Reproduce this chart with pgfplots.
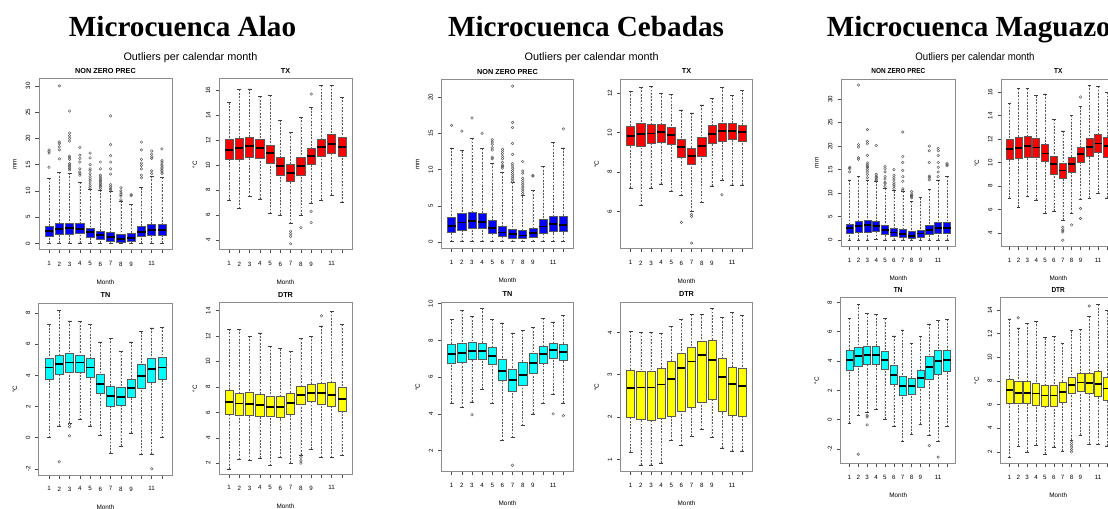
\documentclass[border=0pt]{standalone}
\usepackage{pgfplots}
\pgfplotsset{compat=1.18}
\usepackage{pgfplotstable}
\usepgfplotslibrary{statistics}
\usepackage{fontspec}
\setmainfont{Liberation Sans}
\newfontfamily\headfont{Liberation Serif}

\definecolor{rblue}{RGB}{0,0,255}
\definecolor{rred}{RGB}{255,0,0}
\definecolor{rcyan}{RGB}{0,255,255}
\definecolor{ryellow}{RGB}{255,255,0}

% ---------- monthly box statistics: m lw q1 med q3 uw ----------
\pgfplotstableread{
m lw q1 med q3 uw
1 0.05 1.45 2.3 3.35 12.4
2 0.05 1.8 2.75 3.8 13.5
3 0.05 1.8 2.95 3.9 13.4
4 0.1 1.9 2.8 3.8 11.6
5 0.05 1.2 2.1 2.9 10.3
6 0.05 0.8 1.6 2.35 10.2
7 0.05 0.45 1.2 2.1 9.9
8 0.05 0.25 0.85 1.8 8.1
9 0.05 0.45 1.1 2.0 7.4
10 0.05 1.4 2.15 3.2 10.6
11 0.05 1.5 2.55 3.7 12.8
12 0.05 1.5 2.55 3.7 12.6
}\alaoP
\pgfplotstableread{
m lw q1 med q3 uw
1 7.2 10.43 11.23 12.04 15.0
2 6.54 10.48 11.37 12.17 16.05
3 7.5 10.6 11.5 12.25 16.1
4 7.3 10.56 11.37 12.1 15.5
5 6.1 10.16 10.96 11.58 15.6
6 6.0 9.17 9.9 10.6 13.6
7 5.3 8.69 9.36 10.03 12.6
8 6.0 9.2 9.95 10.6 13.85
9 6.95 10.1 10.75 11.37 14.6
10 7.2 10.7 11.42 12.1 16.4
11 7.6 10.96 11.7 12.44 16.4
12 7.0 10.7 11.45 12.2 15.45
}\alaoTX
\pgfplotstableread{
m lw q1 med q3 uw
1 0.0 3.78 4.51 5.1 7.25
2 0.75 4.08 4.75 5.32 8.15
3 0.95 4.19 4.83 5.39 7.5
4 1.15 4.21 4.83 5.32 7.45
5 0.75 3.89 4.51 5.07 7.3
6 0.12 2.82 3.44 4.1 6.15
7 -1.0 2.0 2.65 3.33 6.4
8 -0.55 2.05 2.6 3.22 5.55
9 0.3 2.58 3.18 3.78 6.15
10 -1.1 3.18 3.97 4.68 6.8
11 -1.05 3.55 4.4 5.1 7.05
12 0.0 3.72 4.5 5.17 7.1
}\alaoTN
\pgfplotstableread{
m lw q1 med q3 uw
1 1.55 5.88 6.79 7.71 12.55
2 2.3 5.8 6.7 7.5 12.55
3 2.2 5.8 6.66 7.55 12.0
4 2.4 5.72 6.58 7.42 12.25
5 1.8 5.67 6.45 7.24 11.2
6 2.45 5.59 6.43 7.24 11.0
7 2.0 5.88 6.72 7.5 10.8
8 2.65 6.66 7.34 8.03 11.8
9 3.1 6.85 7.55 8.24 12.0
10 2.45 6.66 7.5 8.29 12.8
11 2.45 6.45 7.37 8.34 13.95
12 2.6 6.11 7.03 7.95 12.9
}\alaoDTR

\pgfplotstableread{
m lw q1 med q3 uw
1 0.05 1.37 2.24 3.39 13.0
2 0.05 1.69 2.7 3.98 12.6
3 0.05 1.92 2.93 4.07 14.3
4 0.05 1.92 2.79 3.94 12.9
5 0.05 1.24 2.0 2.97 10.9
6 0.05 0.78 1.33 2.15 9.6
7 0.05 0.55 1.1 1.83 8.2
8 0.05 0.46 0.92 1.69 6.4
9 0.05 0.69 1.28 1.92 7.1
10 0.05 1.24 2.15 3.2 10.4
11 0.05 1.46 2.52 3.62 13.8
12 0.05 1.46 2.38 3.52 13.0
}\cebP
\pgfplotstableread{
m lw q1 med q3 uw
1 7.2 9.36 9.83 10.32 12.1
2 6.3 9.28 9.92 10.49 12.3
3 7.2 9.45 9.95 10.42 12.35
4 7.4 9.53 10.02 10.4 12.0
5 7.0 9.41 9.87 10.29 11.95
6 6.8 8.77 9.28 9.68 11.15
7 6.0 8.39 8.82 9.21 11.0
8 6.45 8.81 9.31 9.78 11.4
9 7.3 9.45 9.92 10.35 11.75
10 7.6 9.58 10.07 10.45 12.3
11 7.35 9.68 10.08 10.47 11.9
12 7.35 9.56 10.02 10.37 12.15
}\cebTX
\pgfplotstableread{
m lw q1 med q3 uw
1 4.58 6.76 7.27 7.76 9.16
2 4.35 6.8 7.31 7.85 9.64
3 4.65 6.95 7.4 7.9 9.3
4 5.35 6.95 7.4 7.82 9.75
5 4.55 6.67 7.16 7.64 9.15
6 2.55 5.8 6.35 6.95 8.95
7 2.7 5.22 5.85 6.44 8.4
8 3.35 5.56 6.13 6.8 8.55
9 4.0 6.22 6.76 7.31 8.7
10 4.55 6.73 7.27 7.67 9.2
11 5.05 7.02 7.49 7.85 9.0
12 4.6 6.9 7.35 7.76 9.35
}\cebTN
\pgfplotstableread{
m lw q1 med q3 uw
1 1.17 1.99 2.68 3.11 4.02
2 0.87 1.94 2.7 3.09 4.0
3 0.87 1.93 2.7 3.07 4.0
4 0.92 1.97 2.77 3.15 3.98
5 1.45 2.01 2.9 3.31 4.15
6 1.33 2.14 3.15 3.5 4.3
7 1.55 2.24 3.31 3.64 4.42
8 1.7 2.36 3.47 3.8 4.43
9 1.52 2.42 3.35 3.82 4.57
10 1.27 2.13 2.94 3.38 4.35
11 1.2 2.05 2.79 3.17 4.47
12 1.2 2.01 2.74 3.15 4.4
}\cebDTR

\pgfplotstableread{
m lw q1 med q3 uw
1 0.05 1.4 2.5 3.4 12.8
2 0.05 1.6 3.0 4.1 13.5
3 0.05 1.7 3.2 4.25 12.8
4 0.1 1.8 3.0 3.95 12.6
5 0.05 1.2 2.2 3.1 11.0
6 0.05 0.75 1.6 2.5 10.5
7 0.05 0.5 1.3 2.3 10.3
8 0.05 0.35 0.95 1.8 8.2
9 0.05 0.65 1.4 2.1 9.0
10 0.05 1.3 2.2 3.2 10.8
11 0.05 1.5 2.6 3.8 12.8
12 0.05 1.5 2.6 3.8 13.5
}\magP
\pgfplotstableread{
m lw q1 med q3 uw
1 6.97 10.29 11.15 12.02 15.05
2 6.22 10.37 11.24 12.16 16.3
3 7.12 10.49 11.44 12.22 16.3
4 6.83 10.43 11.3 12.08 15.7
5 5.7 10.09 10.78 11.53 15.85
6 5.87 9.05 9.86 10.58 13.7
7 5.1 8.64 9.34 9.91 12.7
8 5.67 9.22 9.91 10.49 14.04
9 6.88 10.0 10.72 11.3 14.76
10 6.97 10.58 11.35 12.1 16.6
11 7.4 10.86 11.64 12.45 16.5
12 7.0 10.49 11.44 12.16 16.0
}\magTX
\pgfplotstableread{
m lw q1 med q3 uw
1 -0.23 3.4 4.08 4.71 6.91
2 0.27 3.62 4.35 4.92 7.89
3 0.5 3.8 4.42 5.03 7.25
4 0.68 3.8 4.42 4.98 7.18
5 0.04 3.44 4.08 4.67 6.89
6 -0.46 2.44 3.06 3.74 5.71
7 -1.48 1.65 2.31 2.94 6.12
8 -0.98 1.74 2.31 2.81 5.21
9 -0.3 2.2 2.83 3.4 5.7
10 -1.07 2.78 3.58 4.3 6.53
11 -1.5 3.1 4.01 4.71 6.75
12 -0.46 3.33 4.08 4.76 6.84
}\magTN
\pgfplotstableread{
m lw q1 med q3 uw
1 1.52 6.15 7.22 8.13 13.26
2 2.48 6.09 7.0 7.93 12.5
3 2.0 6.09 7.0 7.99 12.87
4 2.56 5.95 6.94 7.84 13.07
5 1.8 5.87 6.77 7.65 11.66
6 2.42 5.87 6.77 7.62 11.8
7 2.08 6.2 7.08 7.87 11.18
8 3.0 6.94 7.65 8.35 12.25
9 3.41 7.14 7.87 8.63 12.36
10 2.65 6.94 7.84 8.69 13.49
11 2.6 6.66 7.73 8.78 14.48
12 2.5 6.38 7.36 8.35 14.0
}\magDTR

% ---------- styles ----------
\pgfplotsset{
  rbox/.style={
    draw=black!65, line width=0.6bp, solid,
    boxplot/draw direction=y,
    boxplot/box extend=0.8,
    boxplot/whisker extend=0.4,
    boxplot/every median/.style={draw=black, line width=1.8bp},
    boxplot/draw/lower whisker/.code={%
      \draw[black!65, line width=0.5bp, dash pattern=on 1.8bp off 1.5bp]
        (boxplot cs:\pgfplotsboxplotvalue{lower whisker}) --
        (boxplot cs:\pgfplotsboxplotvalue{lower quartile});
      \draw[black!75, line width=0.6bp, solid]
        (boxplot whisker cs:\pgfplotsboxplotvalue{lower whisker},0) --
        (boxplot whisker cs:\pgfplotsboxplotvalue{lower whisker},1);
    },
    boxplot/draw/upper whisker/.code={%
      \draw[black!65, line width=0.5bp, dash pattern=on 1.8bp off 1.5bp]
        (boxplot cs:\pgfplotsboxplotvalue{upper whisker}) --
        (boxplot cs:\pgfplotsboxplotvalue{upper quartile});
      \draw[black!75, line width=0.6bp, solid]
        (boxplot whisker cs:\pgfplotsboxplotvalue{upper whisker},0) --
        (boxplot whisker cs:\pgfplotsboxplotvalue{upper whisker},1);
    },
  },
  rout/.style={only marks, mark=o, mark size=1.3bp,
    mark options={draw=black!65, line width=0.45bp, fill=none, solid}},
  rpanel/.style={
    scale only axis, anchor=south west,
    xmin=0.02, xmax=12.98,
    xtick={1,...,12}, xticklabels={1,2,3,4,5,6,7,8,9,,11,},
    tick align=outside, xtick pos=bottom, ytick pos=left,
    major tick length=3.5bp,
    tick style={black!70, line width=0.5bp},
    axis line style={black!45, line width=1bp},
    ticklabel style={font=\fontsize{6.2}{7}\selectfont, inner sep=0pt},
    xticklabel style={anchor=north, yshift=-8bp},
    yticklabel style={xshift=-5bp, rotate=90, anchor=south},
    /pgf/number format/assume math mode=true,
    every axis title/.style={at={(0.5,1)}, anchor=base, yshift=5.5bp,
      font=\bfseries\fontsize{7.3}{8}\selectfont},
    xlabel=Month,
    every axis x label/.style={at={(axis description cs:0.5,0)}, anchor=center,
      yshift=-32bp, font=\fontsize{6.4}{7}\selectfont},
    every axis y label/.style={at={(axis description cs:0,0.5)}, xshift=-24bp,
      rotate=90, anchor=center, font=\fontsize{6.4}{7}\selectfont},
  },
}

% one prepared box per table row
\newcommand\drawboxes[2]{%
  \pgfplotsforeachungrouped \rw in {0,...,11}{%
    \pgfplotstablegetelem{\rw}{m}\of{#1}\let\vm\pgfplotsretval
    \pgfplotstablegetelem{\rw}{lw}\of{#1}\let\vlw\pgfplotsretval
    \pgfplotstablegetelem{\rw}{q1}\of{#1}\let\vqa\pgfplotsretval
    \pgfplotstablegetelem{\rw}{med}\of{#1}\let\vmed\pgfplotsretval
    \pgfplotstablegetelem{\rw}{q3}\of{#1}\let\vqc\pgfplotsretval
    \pgfplotstablegetelem{\rw}{uw}\of{#1}\let\vuw\pgfplotsretval
    \edef\doplot{\noexpand\addplot[rbox, fill=#2, boxplot prepared={draw position=\vm,
      lower whisker=\vlw, lower quartile=\vqa, median=\vmed,
      upper quartile=\vqc, upper whisker=\vuw}] coordinates {};}%
    \doplot
  }%
}

\begin{document}
\begin{tikzpicture}

% ================= Alao =================
\node[anchor=base, font=\headfont\bfseries\fontsize{29.3}{32}\selectfont] at (182.5bp,472bp) {Microcuenca Alao};
\node[anchor=base, font=\fontsize{10.9}{12}\selectfont] at (190.5bp,448bp) {Outliers per calendar month};

\begin{axis}[rpanel, at={(39bp,259bp)}, width=133bp, height=171bp,
  ymin=-1.25, ymax=31.3, ytick={0,5,...,30}, title={NON ZERO PREC}, ylabel={mm}]
\drawboxes{\alaoP}{rblue}
\addplot[rout] coordinates {
(1,14.5)(1,17.2)(1,17.5)(1,17.8)
(2,16.1)(2,17.8)(2,18.4)(2,19.0)(2,19.3)(2,30.0)
(3,14.0)(3,14.3)(3,14.6)(3,14.9)(3,15.2)(3,16.0)(3,16.3)(3,16.6)(3,19.5)(3,20.0)(3,20.5)(3,21.0)(3,25.2)
(4,13.0)(4,13.3)(4,13.6)(4,14.2)(4,15.5)(4,16.2)(4,16.8)(4,18.3)
(5,10.6)(5,11.0)(5,11.5)(5,11.9)(5,12.3)(5,12.7)(5,13.3)(5,13.9)(5,14.2)(5,15.0)(5,16.3)(5,17.2)
(6,10.5)(6,10.8)(6,11.1)(6,11.4)(6,11.7)(6,12.0)(6,12.3)(6,12.6)(6,13.0)(6,14.2)(6,15.5)
(7,10.2)(7,10.5)(7,10.8)(7,11.2)(7,13.2)(7,14.2)(7,15.5)(7,16.7)(7,18.8)(7,24.3)
(8,8.3)(8,9.0)(8,9.3)(8,9.6)(8,10.0)(8,10.6)
(9,9.1)(9,9.3)
(10,12.5)(10,13.0)(10,14.2)(10,14.8)(10,15.3)(10,16.0)(10,17.8)(10,19.3)
(11,13.3)(11,13.8)(11,16.2)(11,16.5)(11,17.0)(11,17.6)
(12,13.3)(12,13.6)(12,13.9)(12,14.2)(12,14.5)(12,14.8)(12,15.1)(12,15.5)(12,15.8)(12,18.0)
};
\end{axis}

\begin{axis}[rpanel, at={(219bp,259bp)}, width=133bp, height=171bp,
  ymin=3.2, ymax=16.9, ytick={4,6,...,16}, title={TX}, ylabel={°C}]
\drawboxes{\alaoTX}{rred}
\addplot[rout] coordinates {(7,3.7)(7,4.3)(7,4.5)(7,4.7)(8,5.0)(9,15.7)(9,6.3)(9,5.4)};
\end{axis}

\begin{axis}[rpanel, at={(39bp,34bp)}, width=133bp, height=172bp,
  ymin=-2.4, ymax=8.65, ytick={-2,0,...,8}, title={TN}, ylabel={°C}]
\drawboxes{\alaoTN}{rcyan}
\addplot[rout] coordinates {(2,-1.55)(3,0.85)(3,0.7)(3,0.12)(11,-2.0)};
\end{axis}

\begin{axis}[rpanel, at={(219bp,35bp)}, width=133bp, height=171bp,
  ymin=1.15, ymax=14.6, ytick={2,4,...,14}, title={DTR}, ylabel={°C}]
\drawboxes{\alaoDTR}{ryellow}
\addplot[rout] coordinates {(8,2.45)(8,2.2)(8,2.0)(10,13.6)};
\end{axis}

% ================= Cebadas =================
\node[anchor=base, font=\headfont\bfseries\fontsize{29.3}{32}\selectfont] at (586bp,472bp) {Microcuenca Cebadas};
\node[anchor=base, font=\fontsize{10.9}{12}\selectfont] at (591.7bp,448bp) {Outliers per calendar month};

\begin{axis}[rpanel, at={(441.7bp,260.7bp)}, width=131.6bp, height=168.3bp,
  ymin=-0.85, ymax=22.35, ytick={0,5,...,20}, title={NON ZERO PREC}, ylabel={mm}]
\drawboxes{\cebP}{rblue}
\addplot[rout] coordinates {
(1,16.1)(2,15.3)(3,17.1)(4,15.0)
(5,11.5)(5,11.7)(5,12.7)(5,13.0)(5,13.5)(5,13.8)(5,14.1)
(6,10.2)(6,10.4)(6,10.6)(6,11.0)(6,11.5)(6,11.8)(6,12.2)(6,12.5)(6,12.8)
(7,8.4)(7,8.7)(7,9.0)(7,9.3)(7,9.6)(7,9.9)(7,10.2)(7,10.5)(7,10.8)(7,12.1)(7,13.6)(7,15.8)(7,16.5)(7,21.5)
(8,6.7)(8,7.0)(8,7.3)(8,7.6)(8,7.9)(8,8.2)(8,8.5)(8,8.8)(8,9.5)(8,9.8)(8,11.1)
(9,9.1)(9,9.2)
(12,15.6)
};
\end{axis}

\begin{axis}[rpanel, at={(620.7bp,260bp)}, width=131.6bp, height=169.7bp,
  ymin=4.1, ymax=12.7, ytick={6,8,...,12}, title={TX}, ylabel={°C}]
\drawboxes{\cebTX}{rred}
\addplot[rout] coordinates {(6,5.45)(7,5.85)(7,5.75)(7,4.4)(10,6.85)};
\end{axis}

\begin{axis}[rpanel, at={(441.7bp,37.3bp)}, width=131.6bp, height=169.4bp,
  ymin=0.85, ymax=10.07, ytick={2,4,...,10}, title={TN}, ylabel={°C}]
\drawboxes{\cebTN}{rcyan}
\addplot[rout] coordinates {(3,3.95)(7,1.2)(11,4.0)(12,3.9)};
\end{axis}

\begin{axis}[rpanel, at={(620.7bp,37.3bp)}, width=131.6bp, height=169.4bp,
  ymin=0.71, ymax=4.71, ytick={1,2,3,4}, title={DTR}, ylabel={°C}]
\drawboxes{\cebDTR}{ryellow}
\end{axis}

% ================= Maguazo =================
\node[anchor=base, font=\headfont\bfseries\fontsize{29.3}{32}\selectfont] at (968.8bp,472bp) {Microcuenca Maguazo};
\node[anchor=base, xscale=0.89, font=\fontsize{10.9}{12}\selectfont] at (975bp,448bp) {Outliers per calendar month};

\begin{axis}[rpanel, at={(841bp,262.3bp)}, width=114.7bp, height=167.4bp,
  ymin=-1.4, ymax=34.2, ytick={0,5,...,30}, title={NON ZERO PREC}, ylabel={mm},
  every axis title/.append style={xscale=0.89}]
\drawboxes{\magP}{rblue}
\addplot[rout] coordinates {
(1,14.5)(1,15.2)(1,15.5)
(2,17.2)(2,17.5)(2,19.8)(2,20.3)(2,33.0)
(3,13.3)(3,14.0)(3,14.5)(3,15.0)(3,15.4)(3,15.7)(3,16.0)(3,16.4)(3,18.0)(3,20.5)(3,21.0)(3,23.5)
(4,12.8)(4,13.0)(4,13.3)(4,13.6)(4,14.0)(4,20.1)
(5,11.4)(5,12.0)(5,12.3)(5,13.0)(5,13.5)(5,14.5)(5,15.2)(5,15.7)
(6,11.0)(6,11.5)(6,11.8)(6,12.2)(6,12.8)(6,13.3)(6,13.8)(6,15.0)
(7,10.6)(7,10.9)(7,12.5)(7,13.5)(7,14.8)(7,16.5)(7,17.8)(7,23.0)
(8,9.0)(8,9.3)(8,9.5)(8,9.8)(8,10.3)
(10,12.8)(10,13.3)(10,13.6)(10,16.5)(10,19.0)(10,20.0)
(11,13.5)(11,14.5)(11,15.5)(11,16.5)(11,18.0)(11,19.0)(11,19.5)
(12,15.8)(12,16.0)(12,16.3)
};
\end{axis}

\begin{axis}[rpanel, at={(1001bp,262.3bp)}, width=114.7bp, height=167.4bp,
  ymin=2.85, ymax=17.1, ytick={4,6,...,16}, title={TX}, ylabel={°C},
  every axis title/.append style={xscale=0.89}]
\drawboxes{\magTX}{rred}
\addplot[rout] coordinates {(7,4.5)(7,4.3)(7,4.2)(7,4.1)(7,3.4)(8,4.7)(9,15.6)(9,6.1)(9,5.25)};
\end{axis}

\begin{axis}[rpanel, at={(840.7bp,45.7bp)}, width=115bp, height=165.6bp,
  ymin=-2.97, ymax=8.32, ytick={-2,0,...,8}, title={TN}, ylabel={°C},
  every axis title/.append style={xscale=0.89}]
\drawboxes{\magTN}{rcyan}
\addplot[rout] coordinates {(2,-2.35)(3,0.3)(3,0.2)(3,-0.35)(10,-1.75)(11,-2.55)};
\end{axis}

\begin{axis}[rpanel, at={(1000.7bp,45.7bp)}, width=115bp, height=165.6bp,
  ymin=1.03, ymax=15.05, ytick={2,4,...,14}, title={DTR}, ylabel={°C},
  every axis title/.append style={xscale=0.89}]
\drawboxes{\magDTR}{ryellow}
\addplot[rout] coordinates {(2,13.35)(8,2.0)(8,2.2)(8,2.4)(8,2.6)(8,2.8)(10,14.35)};
\end{axis}

\pgfresetboundingbox
\path[use as bounding box] (0,0) rectangle (1108bp,509bp);
\end{tikzpicture}
\end{document}
